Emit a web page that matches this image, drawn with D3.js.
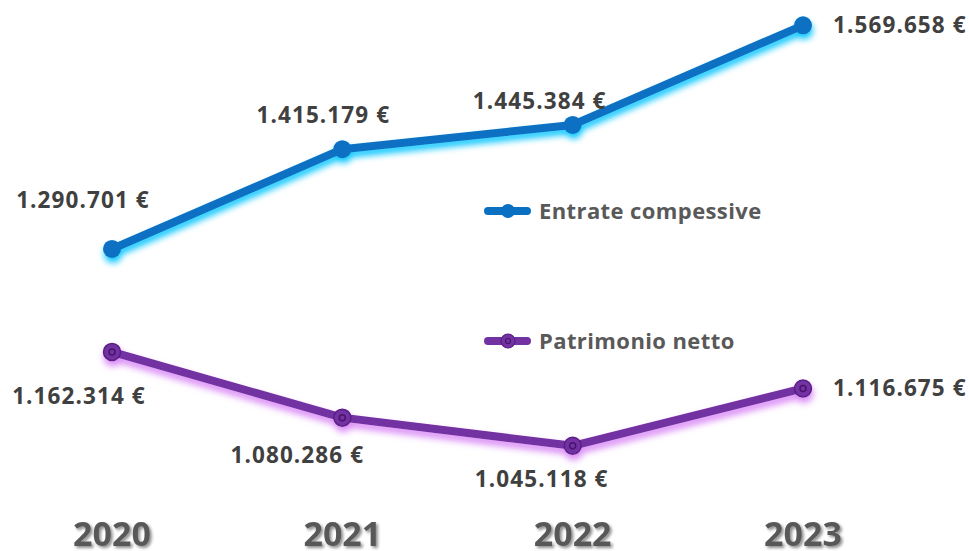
<!DOCTYPE html>
<html>
<head>
<meta charset="utf-8">
<script src="https://cdn.jsdelivr.net/npm/d3@7"></script>
<style>
  body { margin: 0; background: #fff; }
  svg { display: block; font-family: "Open Sans", sans-serif; }
</style>
</head>
<body>
<div id="container"></div>
<script>
const width = 969;
const height = 551;

// data
const years = ["2020", "2021", "2022", "2023"];
const entrate = [1290701, 1415179, 1445384, 1569658];
const patrimonio = [1162314, 1080286, 1045118, 1116675];
const seriesNames = ["Entrate compessive", "Patrimonio netto"];

const fmt = v => d3.format(",d")(v).replace(/,/g, ".") + " €";

const x = d3.scalePoint()
    .domain(years)
    .range([112, 803]);

const y = d3.scaleLinear()
    .domain([1000000, 1600000])
    .range([482, 1]);

const svg = d3.select("div#container")
    .append("svg")
    .attr("width", width)
    .attr("height", height)
    .attr("viewBox", [0, 0, width, height]);

const defs = svg.append("defs");

function glow(id, color, dy, blur) {
    const f = defs.append("filter")
        .attr("id", id)
        .attr("filterUnits", "userSpaceOnUse")
        .attr("x", 0).attr("y", 0)
        .attr("width", width).attr("height", height);
    f.append("feGaussianBlur").attr("in", "SourceAlpha").attr("stdDeviation", blur).attr("result", "b");
    f.append("feOffset").attr("in", "b").attr("dy", dy).attr("dx", 1).attr("result", "o");
    f.append("feFlood").attr("flood-color", color);
    f.append("feComposite").attr("in2", "o").attr("operator", "in").attr("result", "s");
    const m = f.append("feMerge");
    m.append("feMergeNode").attr("in", "s");
    m.append("feMergeNode").attr("in", "SourceGraphic");
}
glow("glowBlue", "#12c8ff", 5, 3);
glow("glowPurple", "#d885f5", 5, 3.5);

const yearShadow = defs.append("filter").attr("id", "yearShadow")
    .attr("x", "-20%").attr("y", "-30%").attr("width", "140%").attr("height", "160%");
yearShadow.append("feGaussianBlur").attr("in", "SourceAlpha").attr("stdDeviation", 1.5).attr("result", "b");
yearShadow.append("feOffset").attr("in", "b").attr("dx", 2).attr("dy", 2).attr("result", "o");
yearShadow.append("feFlood").attr("flood-color", "#000").attr("flood-opacity", 0.45);
yearShadow.append("feComposite").attr("in2", "o").attr("operator", "in").attr("result", "s");
const ym = yearShadow.append("feMerge");
ym.append("feMergeNode").attr("in", "s");
ym.append("feMergeNode").attr("in", "SourceGraphic");

const line = d3.line()
    .x((d, i) => x(years[i]))
    .y(d => y(d));

const blue = "#0a70c2";
const purple = "#7232a2";

// series lines
svg.append("g").attr("filter", "url(#glowBlue)").call(g => {
    g.append("path")
        .datum(entrate)
        .attr("d", line)
        .attr("fill", "none")
        .attr("stroke", blue)
        .attr("stroke-width", 8)
        .attr("stroke-linejoin", "round");
    g.selectAll("circle")
        .data(entrate)
        .join("circle")
        .attr("cx", (d, i) => x(years[i]))
        .attr("cy", d => y(d))
        .attr("r", 9)
        .attr("fill", blue);
});

svg.append("g").attr("filter", "url(#glowPurple)").call(g => {
    g.append("path")
        .datum(patrimonio)
        .attr("d", line)
        .attr("fill", "none")
        .attr("stroke", purple)
        .attr("stroke-width", 8)
        .attr("stroke-linejoin", "round");
    g.selectAll("circle.o")
        .data(patrimonio)
        .join("circle")
        .attr("class", "o")
        .attr("cx", (d, i) => x(years[i]))
        .attr("cy", d => y(d))
        .attr("r", 8.5)
        .attr("fill", purple)
        .attr("stroke", "#5a1e86")
        .attr("stroke-width", 1.5);
});
svg.append("g").selectAll("circle")
    .data(patrimonio)
    .join("circle")
    .attr("cx", (d, i) => x(years[i]))
    .attr("cy", d => y(d))
    .attr("r", 3)
    .attr("fill", "none")
    .attr("stroke", "#4a136e")
    .attr("stroke-width", 1.5);

// value labels: offset from point [dx, dy, anchor]
const entrateLabelPos = [[-29, -41, "middle"], [-19, -26, "middle"], [-33, -16, "middle"], [30, 8, "start"]];
const patrimonioLabelPos = [[-33, 52, "middle"], [-45, 45, "middle"], [-31, 41, "middle"], [30, 8, "start"]];

function valueLabels(values, pos) {
    svg.append("g").selectAll("text")
        .data(values)
        .join("text")
        .attr("x", (d, i) => x(years[i]) + pos[i][0])
        .attr("y", (d, i) => y(d) + pos[i][1])
        .attr("text-anchor", (d, i) => pos[i][2])
        .attr("font-size", 22.5)
        .attr("font-weight", 700)
        .attr("letter-spacing", 1.1)
        .attr("fill", "#404040")
        .text(d => fmt(d));
}
valueLabels(entrate, entrateLabelPos);
valueLabels(patrimonio, patrimonioLabelPos);

// legend
const legend = svg.append("g");
const legendItems = [
    { name: seriesNames[0], color: blue, cy: 211, ring: false },
    { name: seriesNames[1], color: purple, cy: 341, ring: true }
];
legendItems.forEach(it => {
    const g = legend.append("g");
    g.append("line")
        .attr("x1", 488).attr("x2", 527)
        .attr("y1", it.cy).attr("y2", it.cy)
        .attr("stroke", it.color)
        .attr("stroke-width", 8)
        .attr("stroke-linecap", "round");
    g.append("circle")
        .attr("cx", 508).attr("cy", it.cy).attr("r", 7)
        .attr("fill", it.color)
        .attr("stroke", it.ring ? "#5a1e86" : "none")
        .attr("stroke-width", 1.2);
    if (it.ring) {
        g.append("circle")
            .attr("cx", 508).attr("cy", it.cy).attr("r", 2.5)
            .attr("fill", "none")
            .attr("stroke", "#4a136e")
            .attr("stroke-width", 1.2);
    }
    g.append("text")
        .attr("x", 539)
        .attr("y", it.cy + 7.5)
        .attr("font-size", 22)
        .attr("font-weight", 700)
        .attr("letter-spacing", 0.4)
        .attr("fill", "#595959")
        .text(it.name);
});

// x axis year labels
svg.append("g").selectAll("text")
    .data(years)
    .join("text")
    .attr("x", d => x(d))
    .attr("y", 546)
    .attr("text-anchor", "middle")
    .attr("font-size", 34)
    .attr("font-weight", 700)
    .attr("fill", "#595959")
    .attr("filter", "url(#yearShadow)")
    .text(d => d);
</script>
</body>
</html>
